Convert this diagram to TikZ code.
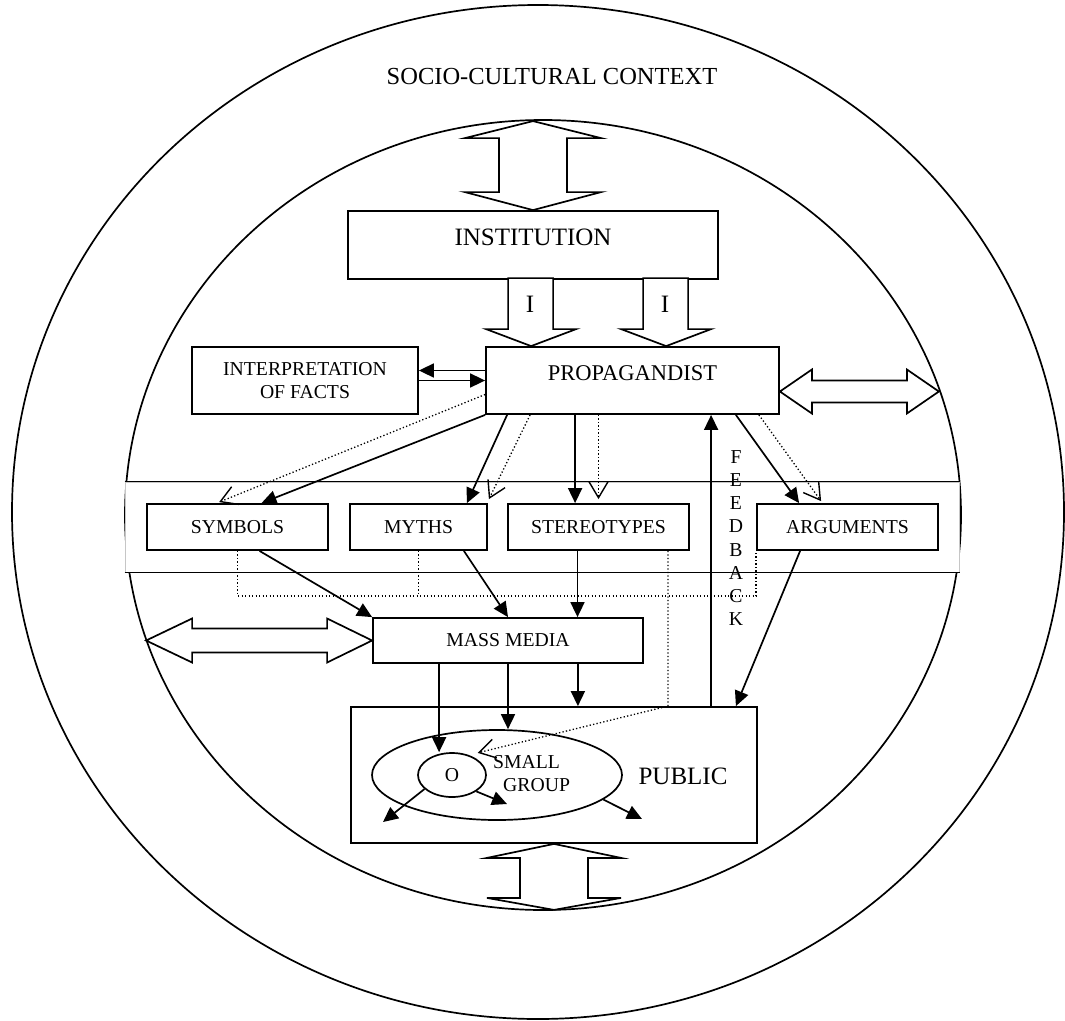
\documentclass[tikz,border=0pt]{standalone}
\usepackage{fontspec}
\setmainfont{Liberation Serif}
\usetikzlibrary{calc}
\usetikzlibrary{positioning}
\usetikzlibrary{shapes}
\usetikzlibrary{arrows.meta}

\begin{document}
\begin{tikzpicture}[x=1pt, y=-1pt, every node/.style={font=\fontsize{19.7}{23.1}\selectfont}]
	\tikzset{
		box/.style={draw, line width=1.8pt, inner sep=0pt, align=center, minimum height=46pt},
		bigbox/.style={box, font=\fontsize{25}{29}\selectfont, minimum height=68pt, text height=0.8em, text depth=0.8em},
		flow/.style={-{Triangle[length=15pt, width=14pt]}, line width=1.7pt},
		dotline/.style={line width=1.3pt, dash pattern=on 1.3pt off 2.2pt},
		dotarrow/.style={dotline, -{Straight Barb[length=16pt, width=19pt, line width=1.4pt]}},
		block/.style={draw, line width=1.7pt, fill=white},
		ring/.style={line width=1.7pt}
	}
	\useasboundingbox (0,0) rectangle (1065,1020);
	\draw[ring] (538,512) ellipse [x radius=526pt, y radius=507pt];
	\draw[ring] (543,515) ellipse [x radius=418pt, y radius=395pt];
	\node[font=\fontsize{24.5}{28}\selectfont] (context) at (552,77) {SOCIO-CULTURAL CONTEXT};

	\node[draw=gray!45, line width=1pt, fill=white, minimum width=834pt, minimum height=90pt, inner sep=0pt] (band) at (542,527) {};
	\draw[line width=1.7pt] (band.north west) -- (band.north east);
	\draw[line width=1.7pt] (band.south west) -- (band.south east);

	\node[bigbox, minimum width=370pt] (inst) at (533,245) {INSTITUTION};
	\node[bigbox, minimum width=293pt, minimum height=67pt, font=\fontsize{22.5}{26}\selectfont] (prop) at (632.5,380.5) {PROPAGANDIST};
	\node[box, minimum width=226pt, minimum height=67pt] (interp) at (305,380.5) {INTERPRETATION\\OF FACTS};
	\node[box, minimum width=181pt] (sym) at (237.5,527) {SYMBOLS};
	\node[box, minimum width=137pt] (myth) at (418.5,527) {MYTHS};
	\node[box, minimum width=181pt] (stereo) at (598.5,527) {STEREOTYPES};
	\node[box, minimum width=181pt] (args) at (847.5,527) {ARGUMENTS};
	\node[box, minimum width=270pt, minimum height=45pt] (media) at (508,640.5) {MASS MEDIA};
	\node[box, minimum width=406pt, minimum height=136pt] (pub) at (554,775) {};
	\node[font=\fontsize{25}{29}\selectfont] (publabel) at (683,776) {PUBLIC};
	\node[draw, ellipse, line width=1.7pt, minimum width=250pt, minimum height=90pt, inner sep=0pt] (group) at (497,775) {};
	\node[draw, ellipse, line width=1.7pt, minimum width=68pt, minimum height=44pt, inner sep=0pt] (o) at (452,775) {O};
	\node[align=left, anchor=west, inner sep=0pt] (grouplabel) at (493,774) {SMALL\\\hspace*{10pt}GROUP};

	\draw[block] (inst.north) -- +(68,-18) -- +(34,-18) -- +(34,-72) -- +(68,-72) -- +(0,-89) -- +(-68,-72) -- +(-34,-72) -- +(-34,-18) -- +(-68,-18) -- cycle;
	\draw[block] (pub.south) -- +(67,14) -- +(34,14) -- +(34,54) -- +(67,54) -- +(0,66) -- +(-67,54) -- +(-34,54) -- +(-34,14) -- +(-67,14) -- cycle;
	\coordinate (tipA) at ($(prop.north west)+(46,0)$);
	\coordinate (tipB) at ($(prop.north west)+(181,0)$);
	\draw[block] (tipA) -- +(45,-17) -- +(22,-17) -- +(22,-68) -- +(-23,-68) -- +(-23,-17) -- +(-45,-17) -- cycle;
	\draw[block] (tipB) -- +(45,-17) -- +(22,-17) -- +(22,-68) -- +(-23,-68) -- +(-23,-17) -- +(-45,-17) -- cycle;
	\node[font=\fontsize{25}{29}\selectfont] (ia) at ($(tipA)+(-1,-42)$) {I};
	\node[font=\fontsize{25}{29}\selectfont] (ib) at ($(tipB)+(-1,-42)$) {I};
	\coordinate (ra) at ($(prop.east)+(0,11)$);
	\draw[block] (ra) -- +(32,-22) -- +(32,-11) -- +(127,-11) -- +(127,-22) -- +(159,0) -- +(127,22) -- +(127,11) -- +(32,11) -- +(32,22) -- cycle;
	\draw[block] (media.west) -- +(-45,-22) -- +(-45,-12) -- +(-180,-12) -- +(-180,-22) -- +(-226,0) -- +(-180,22) -- +(-180,12) -- +(-45,12) -- +(-45,22) -- cycle;

	\draw[flow] ($(prop.west)+(0,-10)$) -- ($(interp.east)+(0,-10)$);
	\draw[flow] (interp.east) -- (prop.west);

	\draw[dotarrow] ($(prop.west)+(0,14)$) -- ($(sym.north west)+(73,-1)$);
	\draw[flow] (prop.south west) -- ($(sym.north)+(24,0)$);
	\draw[flow] ($(prop.south west)+(22,0)$) -- ($(myth.north east)+(-21,0)$);
	\draw[dotarrow] ($(prop.south west)+(45,0)$) -- ($(myth.north east)+(1,-4)$);
	\coordinate (pa) at ($(prop.south west)+(90,0)$);
	\draw[flow] (pa) -- (pa |- stereo.north);
	\draw[dotarrow] (prop.south -| stereo.north) -- ($(stereo.north)+(0,-4)$);
	\draw[flow] ($(prop.south east)+(-44,0)$) -- ($(args.north west)+(43,0)$);
	\draw[dotarrow] ($(prop.south east)+(-21,0)$) -- ($(args.north west)+(65,-2)$);

	\draw[dotline] (sym.south) -- ++(0,45) -| (args.south west);
	\draw[dotline] (myth.south) -- ++(0,45);
	\coordinate (st) at ($(stereo.south east)+(-22,0)$);
	\draw[dotarrow] (st) -- (st |- pub.north) -- ($(o.north east)+(1,-6)$);

	\draw[flow] ($(sym.south)+(22,0)$) -- (media.north west);
	\draw[flow] ($(myth.south east)+(-24,0)$) -- (media.north);
	\coordinate (sa) at ($(stereo.south)+(-21,0)$);
	\draw[flow] (sa) -- (sa |- media.north);

	\coordinate (ma) at ($(media.south west)+(67,0)$);
	\draw[flow] (ma) -- (ma |- o.north);
	\draw[flow] (media.south) -- (media.south |- group.north);
	\coordinate (mb) at ($(media.south east)+(-66,0)$);
	\draw[flow] (mb) -- (mb |- pub.north);
	\draw[flow] ($(args.south west)+(44,0)$) -- ($(pub.north east)+(-22,0)$);

	\coordinate (fb) at ($(pub.north west)+(361,0)$);
	\draw[flow] (fb) -- (fb |- prop.south);
	\node[align=center] (feedback) at (736,538) {F\\E\\E\\D\\B\\A\\C\\K};

	\coordinate (oa) at (383,822);
	\coordinate (ob) at (507,804);
	\coordinate (oc) at (642,819);
	\draw[flow] (o.207) -- (oa);
	\draw[flow] (o.326) -- (ob);
	\draw[flow] (group.347) -- (oc);
\end{tikzpicture}
\end{document}
